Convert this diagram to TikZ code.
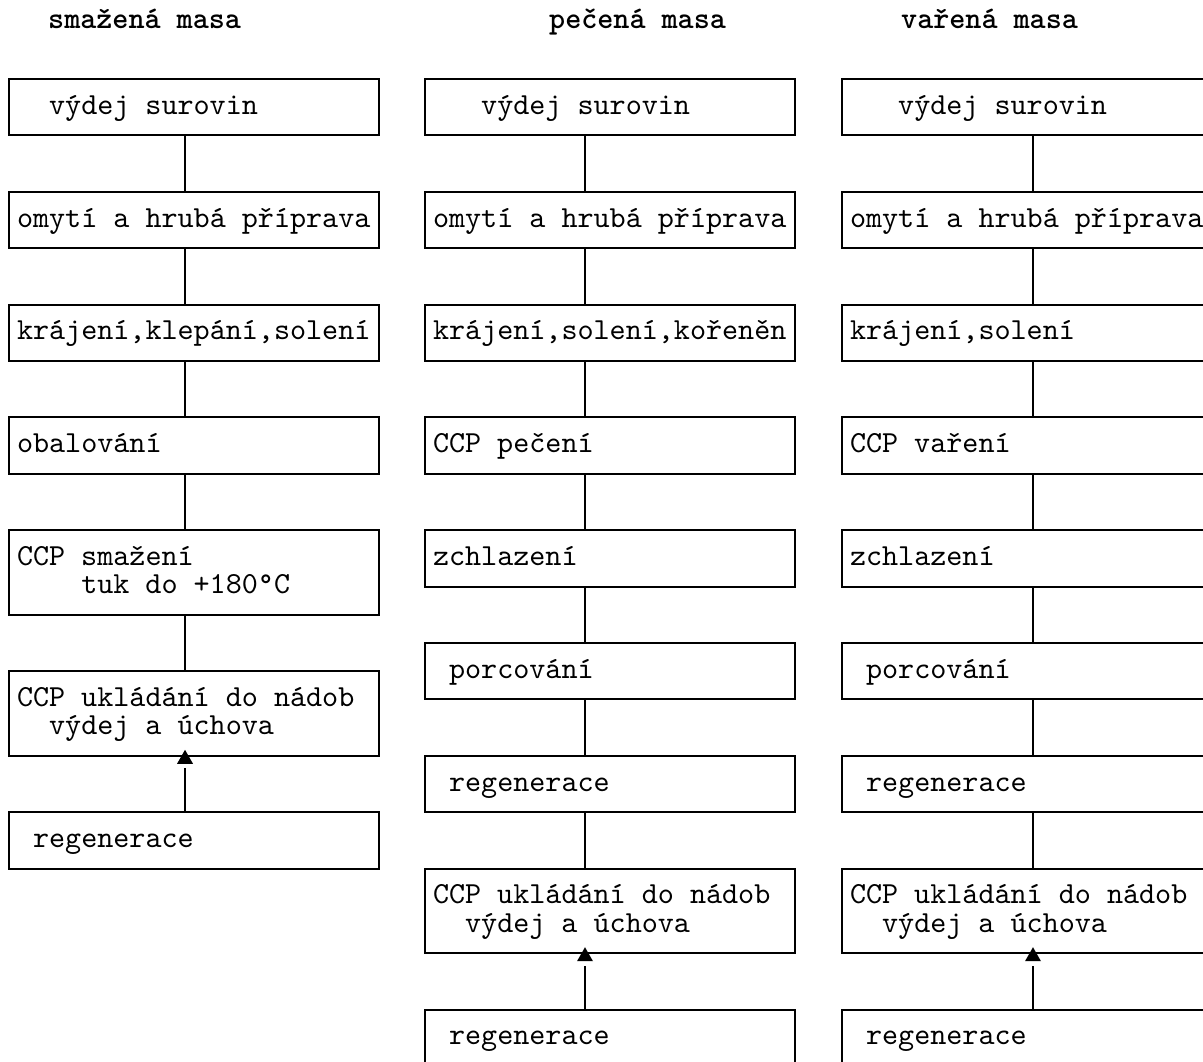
\documentclass[tikz,border=0pt]{standalone}
\usepackage{fontspec}
\newfontfamily\mono{lmmono10-regular.otf}[BoldFont=lmmonolt10-bold.otf]
\begin{document}
\begin{tikzpicture}[x=1pt,y=-1pt,
  box/.style={draw, line width=2pt, anchor=north west, minimum width=370pt,
    minimum height=56.4pt, inner xsep=8pt, inner ysep=0pt, text width=354pt,
    align=flush left, font=\mono\fontsize{30.6}{28.2}\selectfont,
    execute at begin node={\spaceskip=0pt\xspaceskip=0pt},
    text height=18pt, text depth=4pt},
  tall/.style={minimum height=84.6pt, text depth=32.2pt},
  coltitle/.style={anchor=base west, inner sep=0pt,
    font=\mono\bfseries\fontsize{30.6}{28.2}\selectfont,
    execute at begin node={\spaceskip=0pt\xspaceskip=0pt}},
  conn/.style={line width=2pt},
  tip/.style={fill=black}]
\useasboundingbox (0,0) rectangle (1203,1061);
\clip (0,0) rectangle (1203,1061);

% titles
\node[coltitle] (ta) at (48,28) {smažená masa};
\node[coltitle] (tb) at (549,28) {pečená masa};
\node[coltitle] (tc) at (901,28) {vařená masa};

% connector x positions
\coordinate (xa) at (185,0);
\coordinate (xb) at (585,0);
\coordinate (xc) at (1033,0);

% column 1
\node[box] (a1) at (8,78)    {\phantom{xx}výdej surovin};
\node[box] (a2) at (8,190.8) {omytí a hrubá příprava};
\node[box] (a3) at (8,303.6) {krájení,klepání,solení};
\node[box] (a4) at (8,416.4) {obalování};
\node[box,tall] (a5) at (8,529.2) {CCP smažení\\\phantom{xxxx}tuk do +180°C};
\node[box,tall] (a6) at (8,670.2) {CCP ukládání do nádob\\\phantom{xx}výdej a úchova};
\node[box] (a7) at (8,811.2) {\phantom{x}regenerace};

% column 2
\node[box] (b1) at (424,78)    {\phantom{xxx}výdej surovin};
\node[box] (b2) at (424,190.8) {omytí a hrubá příprava};
\node[box] (b3) at (424,303.6) {krájení,solení,kořeněn};
\node[box] (b4) at (424,416.4) {CCP pečení};
\node[box] (b5) at (424,529.2) {zchlazení};
\node[box] (b6) at (424,642)   {\phantom{x}porcování};
\node[box] (b7) at (424,754.8) {\phantom{x}regenerace};
\node[box,tall] (b8) at (424,867.6) {CCP ukládání do nádob\\\phantom{xx}výdej a úchova};
\node[box] (b9) at (424,1008.6) {\phantom{x}regenerace};

% column 3
\node[box] (c1) at (841,78)    {\phantom{xxx}výdej surovin};
\node[box] (c2) at (841,190.8) {omytí a hrubá příprava};
\node[box] (c3) at (841,303.6) {krájení,solení};
\node[box] (c4) at (841,416.4) {CCP vaření};
\node[box] (c5) at (841,529.2) {zchlazení};
\node[box] (c6) at (841,642)   {\phantom{x}porcování};
\node[box] (c7) at (841,754.8) {\phantom{x}regenerace};
\node[box,tall] (c8) at (841,867.6) {CCP ukládání do nádob\\\phantom{xx}výdej a úchova};
\node[box] (c9) at (841,1008.6) {\phantom{x}regenerace};

% plain connectors
\foreach \u/\v in {a1/a2,a2/a3,a3/a4,a4/a5,a5/a6}
  \draw[conn] (\u.south -| xa) -- (\v.north -| xa);
\foreach \u/\v in {b1/b2,b2/b3,b3/b4,b4/b5,b5/b6,b6/b7,b7/b8}
  \draw[conn] (\u.south -| xb) -- (\v.north -| xb);
\foreach \u/\v in {c1/c2,c2/c3,c3/c4,c4/c5,c5/c6,c6/c7,c7/c8}
  \draw[conn] (\u.south -| xc) -- (\v.north -| xc);

% arrow connectors (regenerace -> ukladani)
\foreach \u/\v/\x in {a7/a6/xa, b9/b8/xb, c9/c8/xc}{
  \draw[conn] (\u.north -| \x) -- ++(0,-43);
  \fill[tip] (\v.south -| \x) ++(-8,7) -- ++(16,0) -- ++(-8,-14) -- cycle;
}
\end{tikzpicture}
\end{document}
